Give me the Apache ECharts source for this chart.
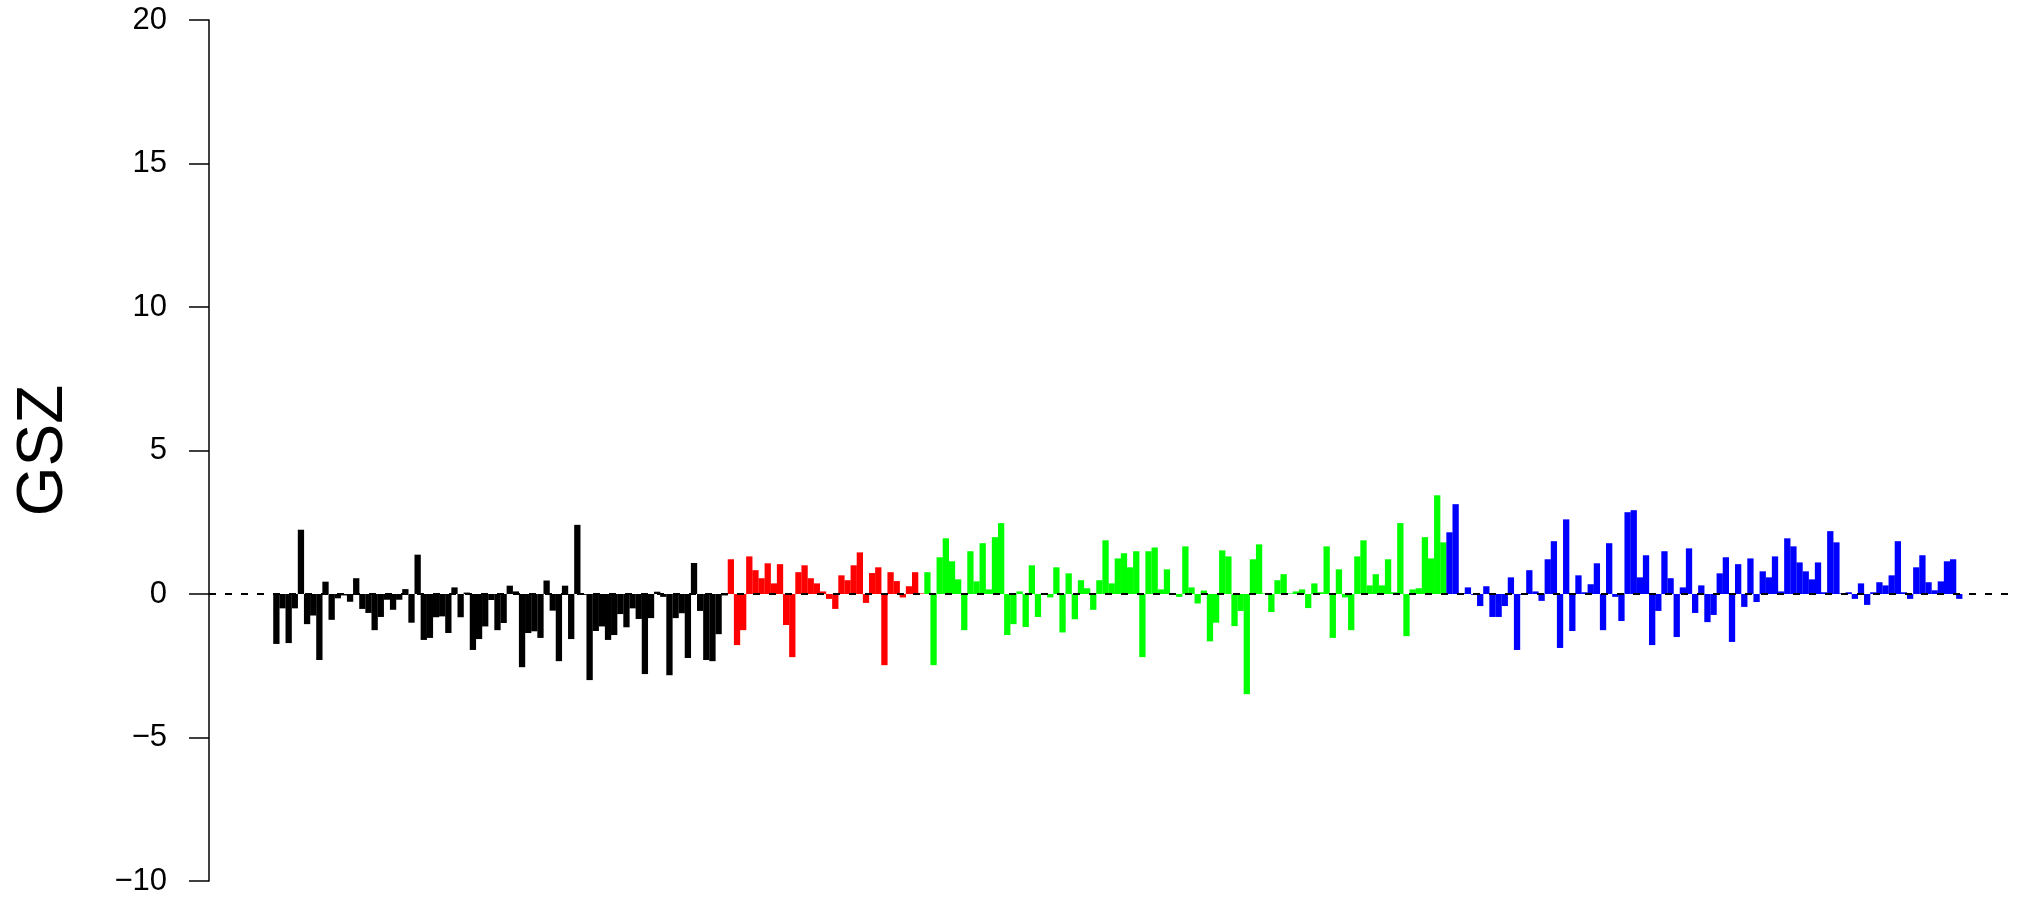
<!DOCTYPE html>
<html>
<head>
<meta charset="utf-8">
<script src="https://cdn.jsdelivr.net/npm/echarts@6/dist/echarts.min.js"></script>
<style>
html,body{margin:0;padding:0;background:#fff;}
#chart{width:2035px;height:900px;}
</style>
</head>
<body>
<div id="chart"></div>
<script>
// ---- data (GSZ scores) ----
const blackVals = [
 -1.74,-0.5,-1.71,-0.5,2.24,-1.05,-0.75,-2.30,0.43,-0.9,
 -0.15,-0.05,-0.27,0.55,-0.52,-0.66,-1.26,-0.8,-0.2,-0.55,
 -0.2,0.17,-1.0,1.37,-1.60,-1.53,-0.81,-0.78,-1.36,0.23,
 -0.81,0.05,-1.95,-1.57,-1.13,-0.21,-1.26,-1.01,0.29,0.09,
 -2.55,-1.36,-1.30,-1.53,0.47,-0.58,-2.34,0.29,-1.57,2.41,
 -0.03,-3.0,-1.29,-1.13,-1.6,-1.43,-0.7,-1.16,-0.5,-0.87,
 -2.79,-0.84,0.08,-0.1,-2.83,-0.84,-0.67,-2.23,1.08,-0.59,
 -2.3,-2.34,-1.4,-0.05
];
const redVals = [
 1.21,-1.78,-1.26,1.31,0.83,0.55,1.07,0.37,1.04,-1.08,
 -2.2,0.76,1.0,0.55,0.37,0.09,-0.17,-0.52,0.65,0.48,
 1.0,1.45,-0.31,0.73,0.93,-2.48,0.76,0.45,-0.12,0.27,
 0.76,0.02
];
const greenVals = [
 0.76,-2.48,1.28,1.94,1.14,0.51,-1.26,1.49,0.44,1.77,
 0.16,1.98,2.47,-1.43,-1.05,0.09,-1.15,1.0,-0.8,0.02,
 -0.12,0.93,-1.34,0.72,-0.88,0.48,0.2,-0.55,0.48,1.87,
 0.37,1.24,1.42,0.93,1.49,-2.2,1.49,1.62,0.16,0.86,
 0.01,-0.1,1.66,0.23,-0.33,0.12,-1.65,-1.0,1.52,1.31,
 -1.12,-0.59,-3.49,1.21,1.73,0.02,-0.63,0.48,0.69,0.02,
 0.09,0.16,-0.49,0.37,0.06,1.66,-1.53,0.86,-0.12,-1.26,
 1.31,1.87,0.3,0.69,0.3,1.21,0.06,2.47,-1.47,0.16,
 0.2,1.98,1.24,3.44,1.8
];
const blueVals = [
 2.15,3.13,0.03,0.23,-0.03,-0.42,0.27,-0.8,-0.8,-0.42,
 0.58,-1.95,-0.03,0.83,0.09,-0.24,1.21,1.84,-1.88,2.6,
 -1.29,0.65,0.06,0.34,1.07,-1.26,1.77,-0.1,-0.94,2.85,
 2.92,0.58,1.35,-1.78,-0.59,1.49,0.55,-1.5,0.23,1.59,
 -0.66,0.3,-0.98,-0.73,0.72,1.28,-1.67,1.04,-0.45,1.24,
 -0.28,0.79,0.58,1.31,0.09,1.94,1.66,1.1,0.79,0.51,
 1.1,0.06,2.19,1.8,0.02,0.06,-0.17,0.37,-0.38,0.06,
 0.41,0.3,0.65,1.84,0.06,-0.17,0.93,1.35,0.41,0.13,
 0.44,1.14,1.21,-0.17
];
const groupColors = ['#000000', '#ff0000', '#00ff00', '#0000ff'];
const yMin = -10, yMax = 20, yStep = 5;
const yName = 'GSZ';

// ---- build series data ----
const groups = [blackVals, redVals, greenVals, blueVals];
const barData = [];
let k = 0;
groups.forEach((g, gi) => {
  g.forEach(v => {
    barData.push({ value: [k, v], itemStyle: { color: groupColors[gi] } });
    k++;
  });
});

const chart = echarts.init(document.getElementById('chart'), null, { renderer: 'canvas' });
const font = "'Liberation Sans', Arial, Helvetica, sans-serif";
chart.setOption({
  animation: false,
  backgroundColor: '#ffffff',
  grid: { left: 209, right: 18, top: 20, bottom: 19, containLabel: false },
  xAxis: {
    type: 'value',
    min: -10.97,
    max: 283.4,
    show: false,
    splitLine: { show: false }
  },
  yAxis: {
    type: 'value',
    min: yMin,
    max: yMax,
    interval: yStep,
    name: yName,
    nameLocation: 'middle',
    nameRotate: 90,
    nameGap: 133,
    nameTextStyle: { fontSize: 64, color: '#000', fontFamily: font },
    axisLine: { show: true, onZero: false, lineStyle: { color: '#000', width: 1.5 } },
    axisTick: { show: true, length: 20, lineStyle: { color: '#000', width: 1.5 } },
    axisLabel: {
      margin: 42, fontSize: 31, color: '#000', fontFamily: font,
      formatter: v => String(v).replace('-', '\u2212')
    },
    splitLine: { show: false }
  },
  series: [{
    type: 'bar',
    data: barData,
    barWidth: 6.3,
    barGap: '-100%',
    itemStyle: { borderWidth: 0 },
    markLine: {
      silent: true,
      symbol: 'none',
      z: 10,
      label: { show: false },
      lineStyle: { color: '#000', type: [7, 9], width: 2 },
      data: [{ yAxis: 0 }]
    }
  }]
});
</script>
</body>
</html>
